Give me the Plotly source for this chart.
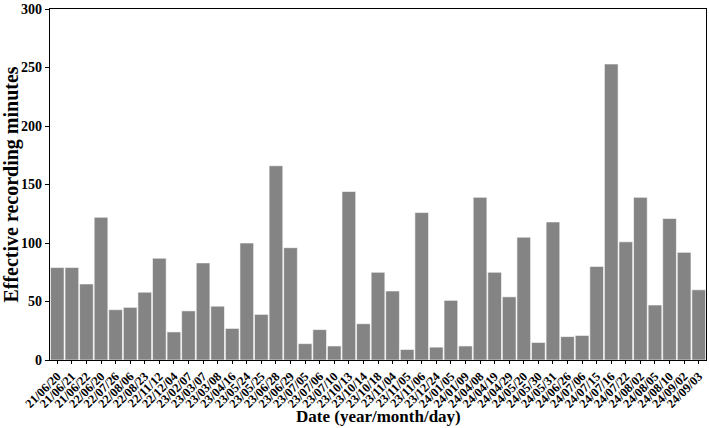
import plotly.graph_objects as go

dates = ["21/06/20", "21/06/21", "21/06/22", "22/06/20", "22/07/26", "22/08/06", "22/08/23",
         "22/11/12", "22/12/04", "23/02/07", "23/03/07", "23/03/08", "23/04/16", "23/05/24",
         "23/05/25", "23/06/28", "23/06/29", "23/07/05", "23/07/06", "23/07/10", "23/10/13",
         "23/10/14", "23/10/18", "23/11/04", "23/11/05", "23/11/06", "23/12/24", "24/01/05",
         "24/01/09", "24/04/08", "24/04/19", "24/04/29", "24/05/20", "24/05/30", "24/05/31",
         "24/06/26", "24/07/06", "24/07/15", "24/07/16", "24/07/22", "24/08/02", "24/08/05",
         "24/08/10", "24/09/02", "24/09/03"]
minutes = [79, 79, 65, 122, 43, 45, 58, 87, 24, 42, 83, 46, 27, 100, 39, 166, 96, 14, 26, 12,
           144, 31, 75, 59, 9, 126, 11, 51, 12, 139, 75, 54, 105, 15, 118, 20, 21, 80, 253,
           101, 139, 47, 121, 92, 60]
yticks = [0, 50, 100, 150, 200, 250, 300]

font = "Liberation Serif"
fig = go.Figure(go.Bar(
    x=list(range(len(dates))), y=minutes,
    marker=dict(color="#848484", line=dict(color="#ffffff", width=0.6)),
))
fig.update_layout(
    width=709, height=428,
    margin=dict(l=50, r=2, t=6, b=68),
    plot_bgcolor="white", paper_bgcolor="white",
    bargap=0.06, showlegend=False,
    font=dict(family=font, color="black"),
    annotations=[dict(
        text="<b>Date (year/month/day)</b>", xref="paper", yref="paper",
        x=0.5, y=-0.162, xanchor="center", yanchor="middle", showarrow=False,
        font=dict(size=17, family=font, color="black"),
    )],
)
fig.update_xaxes(
    range=[-0.5, len(dates) - 0.5],
    tickmode="array", tickvals=list(range(len(dates))), ticktext=[f"<b>{d}</b>" for d in dates],
    tickangle=-45, tickfont=dict(size=12.5, family=font, color="black", weight="bold"),
    ticks="outside", ticklen=3, tickcolor="black", tickwidth=1,
    showline=True, linecolor="black", linewidth=1.2, mirror=True,
    showgrid=False, zeroline=False, ticklabeloverflow="allow",
)
fig.update_yaxes(
    range=[0, 300], tickmode="array", tickvals=yticks, ticktext=[f"<b>{v}</b>" for v in yticks],
    tickfont=dict(size=14, family=font, color="black", weight="bold"),
    ticks="outside", ticklen=4, tickcolor="black", tickwidth=1,
    showline=True, linecolor="black", linewidth=1.2, mirror=True,
    showgrid=False, zeroline=False, ticklabeloverflow="allow",
    title=dict(text="<b>Effective recording minutes</b>", font=dict(size=20, family=font), standoff=4),
)
fig.write_html("out.html")
